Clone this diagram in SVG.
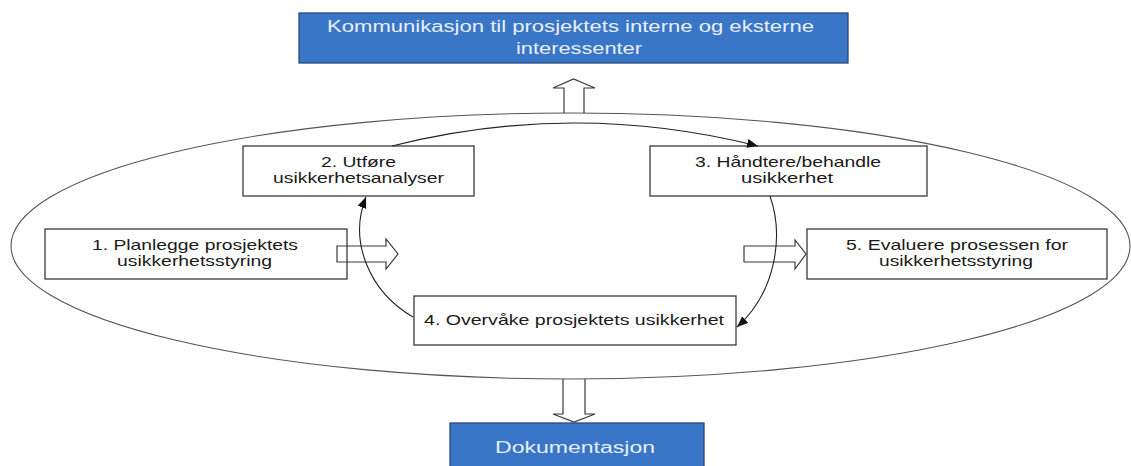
<svg xmlns="http://www.w3.org/2000/svg" width="1131" height="466" viewBox="0 0 1131 466">
<style>
.box{fill:#ffffff;stroke:#3a3a3a;stroke-width:1.3}
.blue{fill:#3a76c8;stroke:#2a4a78;stroke-width:1.3}
.t{font-family:"Liberation Sans",Arial,sans-serif;font-size:14.5px;fill:#1a1a1a}
.tw{font-family:"Liberation Sans",Arial,sans-serif;font-size:16px;fill:#e8eff9}
.blk{fill:none;stroke:#3a3a3a;stroke-width:1.2}
.con{fill:none;stroke:#222;stroke-width:1.1}
.ell{fill:none;stroke:#555;stroke-width:1.1}
</style>
<defs>
<marker id="ah" markerUnits="userSpaceOnUse" markerWidth="12" markerHeight="10" refX="11" refY="4.5" orient="auto">
<path d="M0,0 L11,4.5 L0,9 Z" fill="#111"/>
</marker>
</defs>
<rect width="1131" height="466" fill="#ffffff"/>
<ellipse class="ell" cx="570.5" cy="246" rx="559.5" ry="133"/>

<g id="komm">
<rect class="blue" x="299" y="13" width="549" height="50"/>
<text class="tw" x="327" y="32" textLength="487" lengthAdjust="spacingAndGlyphs">Kommunikasjon til prosjektets interne og eksterne</text>
<text class="tw" x="516" y="54" textLength="126" lengthAdjust="spacingAndGlyphs">interessenter</text>
</g>

<g id="dok">
<rect class="blue" x="450" y="423" width="254" height="50"/>
<text class="tw" x="495" y="453" textLength="160" lengthAdjust="spacingAndGlyphs">Dokumentasjon</text>
</g>

<g id="n1">
<rect class="box" x="45" y="229" width="302" height="50"/>
<text class="t" x="92" y="250" textLength="206" lengthAdjust="spacingAndGlyphs">1. Planlegge prosjektets</text>
<text class="t" x="117" y="266" textLength="155" lengthAdjust="spacingAndGlyphs">usikkerhetsstyring</text>
</g>

<g id="n2">
<rect class="box" x="243" y="146" width="231" height="50"/>
<text class="t" x="321" y="167" textLength="75" lengthAdjust="spacingAndGlyphs">2. Utføre</text>
<text class="t" x="273" y="183" textLength="171" lengthAdjust="spacingAndGlyphs">usikkerhetsanalyser</text>
</g>

<g id="n3">
<rect class="box" x="650" y="146" width="277" height="50"/>
<text class="t" x="695" y="167" textLength="186" lengthAdjust="spacingAndGlyphs">3. Håndtere/behandle</text>
<text class="t" x="741" y="183" textLength="92" lengthAdjust="spacingAndGlyphs">usikkerhet</text>
</g>

<g id="n4">
<rect class="box" x="414" y="296" width="322" height="49"/>
<text class="t" x="424" y="325" textLength="300" lengthAdjust="spacingAndGlyphs">4. Overvåke prosjektets usikkerhet</text>
</g>

<g id="n5">
<rect class="box" x="807" y="229" width="300" height="50"/>
<text class="t" x="846" y="250" textLength="222" lengthAdjust="spacingAndGlyphs">5. Evaluere prosessen for</text>
<text class="t" x="879" y="266" textLength="154" lengthAdjust="spacingAndGlyphs">usikkerhetsstyring</text>
</g>

<g id="connectors">
<path class="blk" d="M564,113 L564,88 L553,88 L573.5,79 L595,88 L584,88 L584,113"/>
<path class="blk" d="M563,379 L563,414 L553,414 L574,422 L595,414 L585,414 L585,379"/>
<path class="blk" d="M337,246 L386,246 L386,239 L398,254 L386,269 L386,262 L337,262 Z"/>
<path class="blk" d="M744,246 L795,246 L795,240 L806,254 L795,269 L795,262 L744,262 Z"/>
<path class="con" d="M392,146 Q575,100 758,146" marker-end="url(#ah)"/>
<path class="con" d="M770,196 C784,236 776,292 737,327" marker-end="url(#ah)"/>
<path class="con" d="M413,317 C370,292 348,242 366,197" marker-end="url(#ah)"/>
</g>
</svg>
